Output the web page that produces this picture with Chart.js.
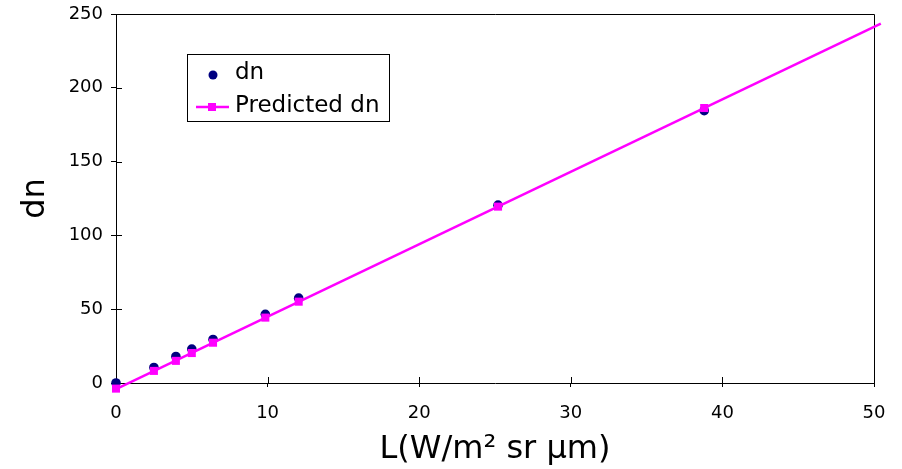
<!DOCTYPE html>
<html>
<head>
<meta charset="utf-8">
<script src="https://cdn.jsdelivr.net/npm/chart.js@4/dist/chart.umd.min.js"></script>
<style>
    html, body { margin: 0; padding: 0; background: #fff; }
    #wrap { width: 902px; height: 469px; position: relative; }
</style>
</head>
<body>
<div id="wrap"><canvas id="myChart"></canvas></div>
<script>
// radiance values (x) and measured / predicted dn
let radiance = [0, 2.5, 3.95, 5.0, 6.4, 9.85, 12.05, 25.2, 38.8];
let dnValues = [0, 10.5, 18, 23, 29.5, 46.5, 57.5, 120.5, 184.5];
let predictedValues = [-3.8, 8.2, 15, 20.3, 27.3, 44.3, 55.1, 119.5, 186.3];

// end points of the predicted line
let fitX = [0, 50.45];
let fitY = [-4.2, 243.5];

let xTicks = [0, 10, 20, 30, 40, 50];
let yTicks = [0, 50, 100, 150, 200, 250];

let legendLabels = ['dn', 'Predicted dn'];
let xTitle = 'L(W/m\u00B2 sr \u03BCm)';
let yTitle = 'dn';

const NAVY = '#000080';
const MAGENTA = '#FF00FF';
const FONT = "'DejaVu Sans', Verdana, sans-serif";

function toPoints(xs, ys) {
    let pts = [];
    for (let i = 0; i < xs.length; i++) {
        pts.push({x: xs[i], y: ys[i]});
    }
    return pts;
}

// box round the plot area + ticks that cross into it
const framePlugin = {
    id: 'frame',
    beforeDatasetsDraw(chart) {
        let ctx = chart.ctx;
        let a = chart.chartArea;
        let xs = chart.scales.x;
        let ys = chart.scales.y;
        ctx.save();
        ctx.strokeStyle = '#000';
        ctx.lineWidth = 1;
        ctx.beginPath();
        ctx.moveTo(a.left, a.top + 0.5);
        ctx.lineTo(a.right + 0.5, a.top + 0.5);
        ctx.lineTo(a.right + 0.5, a.bottom);
        xTicks.forEach(function(v) {
            let px = Math.round(xs.getPixelForValue(v)) + 0.5;
            ctx.moveTo(px, a.bottom);
            ctx.lineTo(px, a.bottom - 6);
        });
        yTicks.forEach(function(v) {
            let py = Math.round(ys.getPixelForValue(v)) + 0.5;
            ctx.moveTo(a.left, py);
            ctx.lineTo(a.left + 6, py);
        });
        ctx.stroke();
        ctx.restore();
    }
};

// legend box inside the plot
const boxLegendPlugin = {
    id: 'boxLegend',
    afterDraw(chart) {
        let ctx = chart.ctx;
        ctx.save();
        ctx.fillStyle = '#fff';
        ctx.fillRect(187, 54, 202, 67);
        ctx.strokeStyle = '#000';
        ctx.lineWidth = 1;
        ctx.strokeRect(187.5, 54.5, 202, 67);

        // dn marker
        ctx.fillStyle = NAVY;
        ctx.beginPath();
        ctx.arc(213, 75, 4.5, 0, Math.PI * 2);
        ctx.fill();

        // predicted line + square
        ctx.strokeStyle = MAGENTA;
        ctx.lineWidth = 2.5;
        ctx.beginPath();
        ctx.moveTo(196, 107);
        ctx.lineTo(229, 107);
        ctx.stroke();
        ctx.fillStyle = MAGENTA;
        ctx.fillRect(208, 103, 8, 8);

        ctx.fillStyle = '#000';
        ctx.font = '23px ' + FONT;
        ctx.textBaseline = 'alphabetic';
        ctx.textAlign = 'left';
        ctx.fillText(legendLabels[0], 235, 79);
        ctx.fillText(legendLabels[1], 235, 112);
        ctx.restore();
    }
};

function createChart(chartId) {
    let ctx = document.getElementById(chartId).getContext('2d');
    let newChart = new Chart(ctx, {
        type: 'scatter',
        data: {
            datasets: [{
                label: legendLabels[0],
                data: toPoints(radiance, dnValues),
                backgroundColor: NAVY,
                borderColor: NAVY,
                pointStyle: 'circle',
                pointRadius: 4.8,
                pointBorderWidth: 0,
                showLine: false,
                clip: false,
                order: 3
            }, {
                label: legendLabels[1],
                data: toPoints(radiance, predictedValues),
                backgroundColor: MAGENTA,
                borderColor: MAGENTA,
                pointStyle: 'rect',
                pointRadius: 5.7,
                pointBorderWidth: 0,
                showLine: false,
                clip: false,
                order: 1
            }, {
                label: 'line',
                data: toPoints(fitX, fitY),
                borderColor: MAGENTA,
                borderWidth: 2.5,
                pointRadius: 0,
                showLine: true,
                clip: false,
                order: 2
            }]
        },
        options: {
            responsive: true,
            maintainAspectRatio: false,
            animation: false,
            events: [],
            layout: {
                padding: {left: 0, right: 28, top: 14, bottom: 0}
            },
            plugins: {
                legend: {display: false},
                tooltip: {enabled: false}
            },
            scales: {
                x: {
                    type: 'linear',
                    min: 0,
                    max: 50,
                    afterFit: function(scale) {
                        scale.height = 86;
                        scale.paddingLeft = 0;
                        scale.paddingRight = 0;
                    },
                    afterBuildTicks: function(scale) {
                        scale.ticks = xTicks.map(function(v) { return {value: v}; });
                    },
                    grid: {
                        drawOnChartArea: false,
                        drawTicks: true,
                        tickLength: 4,
                        color: '#000'
                    },
                    border: {color: '#000', width: 1},
                    ticks: {
                        color: '#000',
                        padding: 16,
                        maxRotation: 0,
                        font: {family: FONT, size: 18}
                    },
                    title: {
                        display: true,
                        text: xTitle,
                        color: '#000',
                        padding: {top: 0, bottom: 0},
                        font: {family: FONT, size: 32}
                    }
                },
                y: {
                    type: 'linear',
                    min: 0,
                    max: 250,
                    afterFit: function(scale) {
                        scale.width = 116;
                        scale.paddingTop = 0;
                        scale.paddingBottom = 0;
                    },
                    afterBuildTicks: function(scale) {
                        scale.ticks = yTicks.map(function(v) { return {value: v}; });
                    },
                    grid: {
                        drawOnChartArea: false,
                        drawTicks: true,
                        tickLength: 5,
                        color: '#000'
                    },
                    border: {color: '#000', width: 1},
                    ticks: {
                        color: '#000',
                        padding: 8,
                        font: {family: FONT, size: 18}
                    },
                    title: {
                        display: true,
                        text: yTitle,
                        color: '#000',
                        padding: {top: 16, bottom: 0},
                        font: {family: FONT, size: 32}
                    }
                }
            }
        },
        plugins: [framePlugin, boxLegendPlugin]
    });
    return newChart;
}

createChart('myChart');
</script>
</body>
</html>
